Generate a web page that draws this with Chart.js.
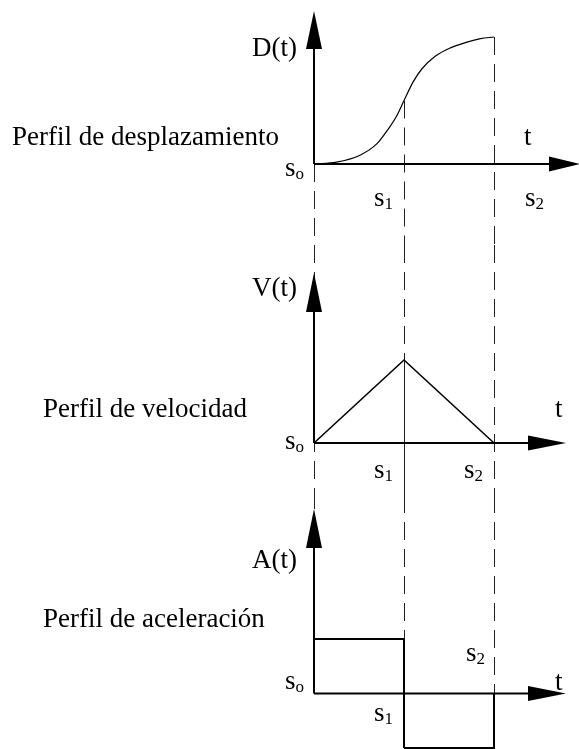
<!DOCTYPE html>
<html>
<head>
<meta charset="utf-8">
<script src="https://cdn.jsdelivr.net/npm/chart.js@4"></script>
<style>
  html, body { margin: 0; padding: 0; background: #fff; }
  #wrap { position: relative; width: 579px; height: 749px; }
  canvas { position: absolute; left: 0; display: block; }
</style>
</head>
<body>
<div id="wrap">
  <canvas id="disp" width="579" height="245" style="top:0"></canvas>
  <canvas id="vel" width="579" height="250" style="top:245px"></canvas>
  <canvas id="acc" width="579" height="254" style="top:495px"></canvas>
</div>
<script>
// instants s0, s1, s2 on the time axis
const knots = [0, 1, 2];
const knotSubs = ['o', '1', '2'];

// displacement D(t) (final value = 1)
const dispT = [0, 0.25, 0.5, 0.7, 0.82, 0.92, 1, 1.1, 1.2, 1.35, 1.5, 1.7, 1.85, 2];
const dispD = [0, 0.015, 0.065, 0.16, 0.27, 0.38, 0.5, 0.645, 0.75, 0.85, 0.91, 0.96, 0.987, 1];

// velocity V(t)
const velT = [0, 1, 2];
const velV = [0, 1, 0];

// acceleration A(t)
const accT = [0, 1, 1, 2, 2];
const accA = [1, 1, -1, -1, 0];

const titles = ['Perfil de desplazamiento', 'Perfil de velocidad', 'Perfil de aceleración'];
const axisNames = ['D(t)', 'V(t)', 'A(t)'];

const FONT = '"Liberation Serif", "Times New Roman", serif';
const DASH = [18, 9];

const pts = (ts, vs) => ts.map((t, i) => ({ x: t, y: vs[i] }));

// draws the dashed guides, the arrowed axes and all the text
const profilePlugin = {
  id: 'profile',
  beforeDatasetsDraw(chart, args, opts) {
    const { ctx, chartArea: area, scales: { x, y } } = chart;
    ctx.save();
    ctx.strokeStyle = '#222';
    ctx.lineWidth = 1;
    opts.guides.forEach(g => {
      const px = Math.round(x.getPixelForValue(g.x)) + 0.5;
      const y0 = g.from === 'top' ? area.top : y.getPixelForValue(g.from);
      const y1 = g.to === 'bottom' ? area.bottom : (g.to === 'tip' ? opts.yTip : y.getPixelForValue(g.to));
      ctx.setLineDash(g.solid ? [] : DASH);
      ctx.beginPath();
      ctx.moveTo(px, y0);
      ctx.lineTo(px, y1);
      ctx.stroke();
    });
    ctx.restore();
  },
  afterDatasetsDraw(chart, args, opts) {
    const { ctx, scales: { x, y } } = chart;
    const ox = x.getPixelForValue(0);
    const oy = y.getPixelForValue(0);
    ctx.save();
    ctx.strokeStyle = '#000';
    ctx.fillStyle = '#000';
    ctx.lineWidth = 2;
    ctx.setLineDash([]);
    ctx.beginPath();
    ctx.moveTo(ox, oy);
    ctx.lineTo(ox, opts.yTip + 10);
    ctx.moveTo(ox, oy);
    ctx.lineTo(opts.xTip - 10, oy);
    ctx.stroke();

    // arrow heads
    ctx.beginPath();
    ctx.moveTo(ox, opts.yTip);
    ctx.lineTo(ox - 8, opts.yTip + opts.vLen);
    ctx.lineTo(ox + 8, opts.yTip + opts.vLen);
    ctx.closePath();
    ctx.fill();
    ctx.beginPath();
    ctx.moveTo(opts.xTip, oy);
    ctx.lineTo(opts.xTip - opts.hLen, oy - 7.5);
    ctx.lineTo(opts.xTip - opts.hLen, oy + 7.5);
    ctx.closePath();
    ctx.fill();

    // texts
    ctx.font = '27px ' + FONT;
    ctx.textBaseline = 'alphabetic';
    ctx.textAlign = 'left';
    ctx.fillText(opts.title, opts.titlePos[0], opts.titlePos[1]);
    ctx.fillText('t', opts.tPos[0], opts.tPos[1]);
    ctx.textAlign = 'right';
    ctx.fillText(opts.axisName, ox - 17, opts.axisNameY);
    ctx.textAlign = 'left';
    knots.forEach((k, i) => {
      const [dx, by] = opts.knotLabels[i];
      const lx = x.getPixelForValue(k) + dx;
      ctx.font = '27px ' + FONT;
      ctx.fillText('s', lx, by);
      const w = ctx.measureText('s').width;
      ctx.font = '17px ' + FONT;
      ctx.fillText(knotSubs[i], lx + w, by + 3);
    });
    ctx.restore();
  }
};

// shared time axis: s0 at x=314, 90 px per interval
const X_ORIGIN = 314, X_UNIT = 90, WIDTH = 579;

function makeProfile(id, panel, datasets, extra) {
  const h = document.getElementById(id).height;
  return new Chart(document.getElementById(id), {
    type: 'line',
    data: { datasets },
    options: {
      responsive: false,
      animation: false,
      events: [],
      layout: { padding: 0 },
      scales: {
        x: { type: 'linear', display: false, min: -X_ORIGIN / X_UNIT, max: (WIDTH - X_ORIGIN) / X_UNIT },
        y: { type: 'linear', display: false, min: -(h - panel.axisY) / panel.unit, max: panel.axisY / panel.unit }
      },
      plugins: {
        legend: { display: false },
        tooltip: { enabled: false },
        profile: extra
      }
    },
    plugins: [profilePlugin]
  });
}

const lineStyle = (width) => ({
  borderColor: '#000',
  borderWidth: width,
  pointRadius: 0,
  fill: false,
  clip: false
});

// displacement, split at s1 so the joint keeps its corner
const k1 = dispT.indexOf(knots[1]);
makeProfile('disp', { axisY: 164, unit: 127 }, [
  { ...lineStyle(1.2), data: pts(dispT.slice(0, k1 + 1), dispD.slice(0, k1 + 1)), cubicInterpolationMode: 'monotone' },
  { ...lineStyle(1.2), data: pts(dispT.slice(k1), dispD.slice(k1)), cubicInterpolationMode: 'monotone' }
], {
  title: titles[0], titlePos: [12, 145],
  axisName: axisNames[0], axisNameY: 56,
  tPos: [524, 145],
  yTip: 11, vLen: 38, xTip: 580, hLen: 31,
  knotLabels: [[-29, 176], [-30, 206], [31, 206]],
  guides: [
    { x: knots[0], from: 0, to: 'bottom' },
    { x: knots[1], from: dispD[k1], to: 'bottom' },
    { x: knots[2], from: dispD[dispD.length - 1], to: 'bottom' }
  ]
});

const peak = velV[velT.indexOf(knots[1])];
makeProfile('vel', { axisY: 198, unit: 83 }, [
  { ...lineStyle(1.6), data: pts(velT, velV) }
], {
  title: titles[1], titlePos: [43, 172],
  axisName: axisNames[1], axisNameY: 51,
  tPos: [555, 172],
  yTip: 28, vLen: 39, xTip: 566, hLen: 38,
  knotLabels: [[-29, 204], [-30, 233], [-30, 233]],
  guides: [
    { x: knots[0], from: 'top', to: 'bottom' },
    { x: knots[1], from: 'top', to: peak },
    { x: knots[1], from: peak, to: 'bottom', solid: true },
    { x: knots[2], from: 'top', to: 'bottom' }
  ]
});

makeProfile('acc', { axisY: 198.5, unit: 54.5 }, [
  {
    ...lineStyle(2), data: pts(accT, accA),
    segment: { borderDash: c => (c.p0.parsed.x === knots[1] && c.p1.parsed.x === knots[1]) ? DASH : undefined }
  }
], {
  title: titles[2], titlePos: [43, 132],
  axisName: axisNames[2], axisNameY: 73,
  tPos: [555, 195],
  yTip: 14, vLen: 39, xTip: 566, hLen: 38,
  knotLabels: [[-29, 194], [-30, 226], [-28, 166]],
  guides: [
    { x: knots[0], from: 'top', to: 'tip' },
    { x: knots[1], from: 'top', to: accA[0] },
    { x: knots[2], from: 'top', to: 0 }
  ]
});
</script>
</body>
</html>
